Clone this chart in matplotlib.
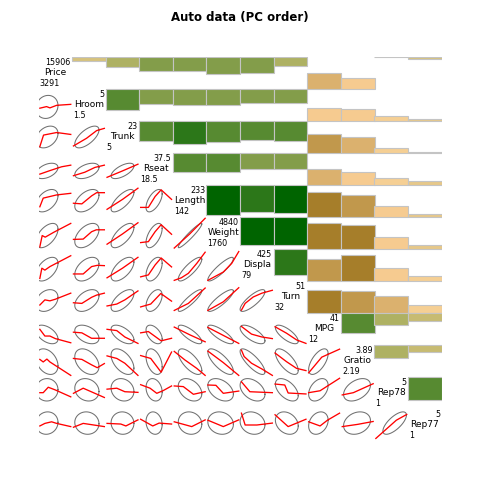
import numpy as np
import matplotlib
matplotlib.use("Agg")
import matplotlib.pyplot as plt
from matplotlib.colors import to_rgb
from matplotlib.patches import Rectangle

# ---------------- data ----------------
variables = ["Price", "Hroom", "Trunk", "Rseat", "Length", "Weight",
             "Displa", "Turn", "MPG", "Gratio", "Rep78", "Rep77"]
var_min = ["3291", "1.5", "5", "18.5", "142", "1760", "79", "32", "12", "2.19", "1", "1"]
var_max = ["15906", "5", "23", "37.5", "233", "4840", "425", "51", "41", "3.89", "5", "5"]

# correlations, upper triangle, row by row (row variable vs later variables)
corr_price = [0.12, 0.32, 0.44, 0.44, 0.53, 0.49, 0.29, -0.49, -0.33, 0.01, 0.07]
corr_hroom = [0.65, 0.47, 0.49, 0.49, 0.45, 0.44, -0.42, -0.38, -0.15, -0.06]
corr_trunk = [0.64, 0.73, 0.67, 0.60, 0.63, -0.58, -0.51, -0.15, -0.03]
corr_rseat = [0.60, 0.58, 0.50, 0.49, -0.49, -0.40, -0.21, -0.14]
corr_length = [0.95, 0.83, 0.89, -0.79, -0.69, -0.35, -0.10]
corr_weight = [0.89, 0.86, -0.80, -0.75, -0.39, -0.12]
corr_displa = [0.81, -0.69, -0.80, -0.40, -0.15]
corr_turn = [-0.73, -0.69, -0.52, -0.26]
corr_mpg = [0.62, 0.39, 0.26]
corr_gratio = [0.42, 0.23]
corr_rep78 = [0.71]

# scaled mean and ellipse half-extent of each variable within its panel (0..1)
var_center = [0.25, 0.44, 0.50, 0.44, 0.51, 0.42, 0.37, 0.39, 0.33, 0.48, 0.60, 0.56]
var_half = [0.33, 0.36, 0.34, 0.24, 0.35, 0.38, 0.37, 0.34, 0.29, 0.40, 0.35, 0.35]

# smoothed (lowess) curves in lower panels, scaled (x, y) vertices, per row, per column
smooth_hroom = [
    [(0.04, 0.40), (0.24, 0.45), (0.34, 0.41), (0.54, 0.49), (0.96, 0.52)],
]
smooth_trunk = [
    [(0.04, 0.20), (0.15, 0.56), (0.54, 0.64), (0.96, 0.58)],
    [(0.04, 0.22), (0.43, 0.46), (0.73, 0.70), (0.96, 0.77)],
]
smooth_rseat = [
    [(0.04, 0.34), (0.34, 0.45), (0.69, 0.57), (0.96, 0.62)],
    [(0.04, 0.29), (0.38, 0.40), (0.68, 0.55), (0.96, 0.62)],
    [(0.04, 0.24), (0.50, 0.44), (0.96, 0.65)],
]
smooth_length = [
    [(0.04, 0.32), (0.14, 0.59), (0.54, 0.69), (0.96, 0.74)],
    [(0.04, 0.43), (0.29, 0.41), (0.58, 0.66), (0.73, 0.76), (0.96, 0.76)],
    [(0.04, 0.24), (0.50, 0.55), (0.96, 0.90)],
    [(0.04, 0.30), (0.27, 0.30), (0.47, 0.64), (0.65, 0.85), (0.96, 0.55)],
]
smooth_weight = [
    [(0.04, 0.07), (0.11, 0.42), (0.20, 0.37), (0.45, 0.52), (0.96, 0.80)],
    [(0.04, 0.30), (0.33, 0.31), (0.58, 0.54), (0.72, 0.60), (0.96, 0.60)],
    [(0.04, 0.15), (0.50, 0.47), (0.96, 0.82)],
    [(0.04, 0.20), (0.27, 0.23), (0.47, 0.54), (0.65, 0.76), (0.96, 0.46)],
    [(0.04, 0.03), (0.50, 0.47), (0.96, 0.96)],
]
smooth_displa = [
    [(0.04, 0.08), (0.10, 0.40), (0.19, 0.34), (0.34, 0.45), (0.96, 0.79)],
    [(0.04, 0.22), (0.33, 0.22), (0.58, 0.45), (0.75, 0.49), (0.96, 0.48)],
    [(0.04, 0.10), (0.50, 0.40), (0.96, 0.74)],
    [(0.04, 0.13), (0.27, 0.19), (0.47, 0.50), (0.65, 0.72), (0.96, 0.44)],
    [(0.04, 0.02), (0.25, 0.10), (0.46, 0.24), (0.71, 0.55), (0.96, 0.90)],
    [(0.04, 0.02), (0.50, 0.28), (0.75, 0.55), (0.96, 0.92)],
]
smooth_turn = [
    [(0.04, 0.25), (0.19, 0.41), (0.34, 0.38), (0.50, 0.43), (0.96, 0.62)],
    [(0.04, 0.32), (0.29, 0.30), (0.58, 0.49), (0.73, 0.56), (0.96, 0.62)],
    [(0.04, 0.22), (0.33, 0.28), (0.57, 0.41), (0.96, 0.69)],
    [(0.04, 0.19), (0.34, 0.28), (0.64, 0.61), (0.96, 0.37)],
    [(0.04, 0.08), (0.46, 0.30), (0.96, 0.78)],
    [(0.04, 0.08), (0.50, 0.35), (0.96, 0.79)],
    [(0.04, 0.09), (0.15, 0.30), (0.39, 0.50), (0.65, 0.62), (0.96, 0.71)],
]
smooth_mpg = [
    [(0.04, 0.49), (0.19, 0.28), (0.34, 0.28), (0.50, 0.20), (0.96, 0.07)],
    [(0.04, 0.40), (0.29, 0.38), (0.58, 0.21), (0.96, 0.21)],
    [(0.04, 0.49), (0.33, 0.45), (0.57, 0.25), (0.96, 0.05)],
    [(0.04, 0.38), (0.27, 0.42), (0.65, 0.13), (0.96, 0.21)],
    [(0.04, 0.56), (0.50, 0.32), (0.96, 0.10)],
    [(0.04, 0.55), (0.50, 0.30), (0.96, 0.05)],
    [(0.04, 0.58), (0.34, 0.34), (0.65, 0.25), (0.96, 0.20)],
    [(0.04, 0.57), (0.38, 0.37), (0.68, 0.16), (0.96, 0.05)],
]
smooth_gratio = [
    [(0.04, 0.55), (0.14, 0.47), (0.25, 0.56), (0.34, 0.47), (0.96, 0.05)],
    [(0.04, 0.58), (0.29, 0.55), (0.58, 0.38), (0.75, 0.29), (0.96, 0.42)],
    [(0.04, 0.66), (0.33, 0.58), (0.57, 0.43), (0.96, 0.05)],
    [(0.04, 0.67), (0.34, 0.58), (0.65, 0.15), (0.96, 0.78)],
    [(0.04, 0.80), (0.36, 0.53), (0.71, 0.27), (0.96, 0.05)],
    [(0.04, 0.81), (0.50, 0.45), (0.96, 0.05)],
    [(0.04, 0.84), (0.12, 0.64), (0.34, 0.43), (0.65, 0.25), (0.96, 0.05)],
    [(0.04, 0.75), (0.38, 0.48), (0.68, 0.27), (0.96, 0.20)],
    [(0.04, 0.13), (0.43, 0.62), (0.96, 0.87)],
]
smooth_rep78 = [
    [(0.04, 0.51), (0.14, 0.51), (0.29, 0.68), (0.49, 0.60), (0.96, 0.38)],
    [(0.04, 0.49), (0.33, 0.65), (0.96, 0.36)],
    [(0.04, 0.62), (0.33, 0.65), (0.57, 0.54), (0.96, 0.52)],
    [(0.04, 0.76), (0.32, 0.65), (0.52, 0.49), (0.72, 0.58), (0.96, 0.72)],
    [(0.04, 0.72), (0.31, 0.70), (0.61, 0.46), (0.96, 0.54)],
    [(0.04, 0.75), (0.28, 0.74), (0.50, 0.49), (0.96, 0.56)],
    [(0.04, 0.85), (0.29, 0.54), (0.96, 0.51)],
    [(0.04, 0.78), (0.33, 0.75), (0.43, 0.50), (0.96, 0.47)],
    [(0.04, 0.51), (0.38, 0.57), (0.96, 0.96)],
    [(0.04, 0.44), (0.37, 0.51), (0.96, 0.79)],
]
smooth_rep77 = [
    [(0.04, 0.47), (0.19, 0.55), (0.39, 0.60), (0.54, 0.55), (0.96, 0.45)],
    [(0.04, 0.43), (0.33, 0.55), (0.96, 0.45)],
    [(0.04, 0.55), (0.45, 0.53), (0.60, 0.47), (0.96, 0.66)],
    [(0.04, 0.68), (0.40, 0.47), (0.59, 0.56), (0.96, 0.53)],
    [(0.04, 0.60), (0.56, 0.45), (0.96, 0.66)],
    [(0.04, 0.65), (0.50, 0.45), (0.96, 0.66)],
    [(0.04, 0.87), (0.15, 0.50), (0.50, 0.50), (0.96, 0.56)],
    [(0.04, 0.82), (0.43, 0.45), (0.96, 0.68)],
    [(0.04, 0.60), (0.38, 0.47), (0.60, 0.65), (0.96, 0.87)],
    [(0.04, 0.45), (0.50, 0.52), (0.96, 0.61)],
    [(0.04, 0.08), (0.35, 0.37), (0.65, 0.65), (0.96, 0.83)],
]

palette_anchors = ["#8B6508", "#FFD39B", "#BDB76B", "#006400"]  # darkgoldenrod4, burlywood1, darkkhaki, darkgreen
n_colors = 14

# ---------------- build ----------------
corr_rows = [corr_price, corr_hroom, corr_trunk, corr_rseat, corr_length, corr_weight,
             corr_displa, corr_turn, corr_mpg, corr_gratio, corr_rep78]
smooth_rows = [None, smooth_hroom, smooth_trunk, smooth_rseat, smooth_length, smooth_weight,
               smooth_displa, smooth_turn, smooth_mpg, smooth_gratio, smooth_rep78, smooth_rep77]
n = len(variables)
R = np.eye(n)
for i, row in enumerate(corr_rows):
    for k, v in enumerate(row):
        j = i + 1 + k
        R[i, j] = R[j, i] = v

anchors = np.array([to_rgb(c) for c in palette_anchors])
apos = np.linspace(0, 1, len(anchors))
tt = np.linspace(0, 1, n_colors)
pal = np.column_stack([np.interp(tt, apos, anchors[:, ch]) for ch in range(3)])


def col_for(r):
    idx = int(np.ceil((r + 1) / 2 * n_colors - 1e-9))
    idx = min(max(idx, 1), n_colors)
    return pal[idx - 1]


fig = plt.figure(figsize=(4.8, 4.8), dpi=100)
left, right, top, bottom = 38.5, 441.7, 57.0, 441.0
ax = fig.add_axes([left / 480, 1 - bottom / 480, (right - left) / 480, (bottom - top) / 480])
ax.set_xlim(0, n)
ax.set_ylim(n, 0)
ax.axis("off")

theta = np.linspace(0, 2 * np.pi, 75)
for i in range(n):
    for j in range(n):
        if i == j:
            ax.text(j + 0.5, i + 0.5, variables[i], ha="center", va="center",
                    fontsize=6.5, color="black")
            ax.text(j + 0.96, i + 0.04, var_max[i], ha="right", va="top",
                    fontsize=5.8, color="black")
            ax.text(j + 0.03, i + 0.96, var_min[i], ha="left", va="bottom",
                    fontsize=5.8, color="black")
        elif j > i:
            r = R[i, j]
            h = abs(r)
            y0 = i if r >= 0 else i + 1 - h
            ax.add_patch(Rectangle((j, y0), 1, h, facecolor=col_for(r),
                                   edgecolor="#c4c4c4", linewidth=0.8))
        else:
            r = R[i, j]
            cx, hx = var_center[j], var_half[j]
            cy, hy = var_center[i], var_half[i]
            ex = cx + hx * np.cos(theta)
            ey = cy + hy * (r * np.cos(theta) + np.sqrt(1 - r * r) * np.sin(theta))
            ex = np.clip(ex, 0, 1)
            ey = np.clip(ey, 0, 1)
            ax.plot(j + ex, i + 1 - ey, color="#707070", lw=0.75)
            pts = np.array(smooth_rows[i][j])
            sx = np.clip(pts[:, 0], 0, 1)
            sy = np.clip(pts[:, 1], 0, 1)
            ax.plot(j + sx, i + 1 - sy, color="red", lw=0.95)

fig.text(0.5, 1 - 18 / 480, "Auto data (PC order)", ha="center", va="center",
         fontsize=8.5, fontweight="bold")

fig.savefig("out.png", dpi=100)
